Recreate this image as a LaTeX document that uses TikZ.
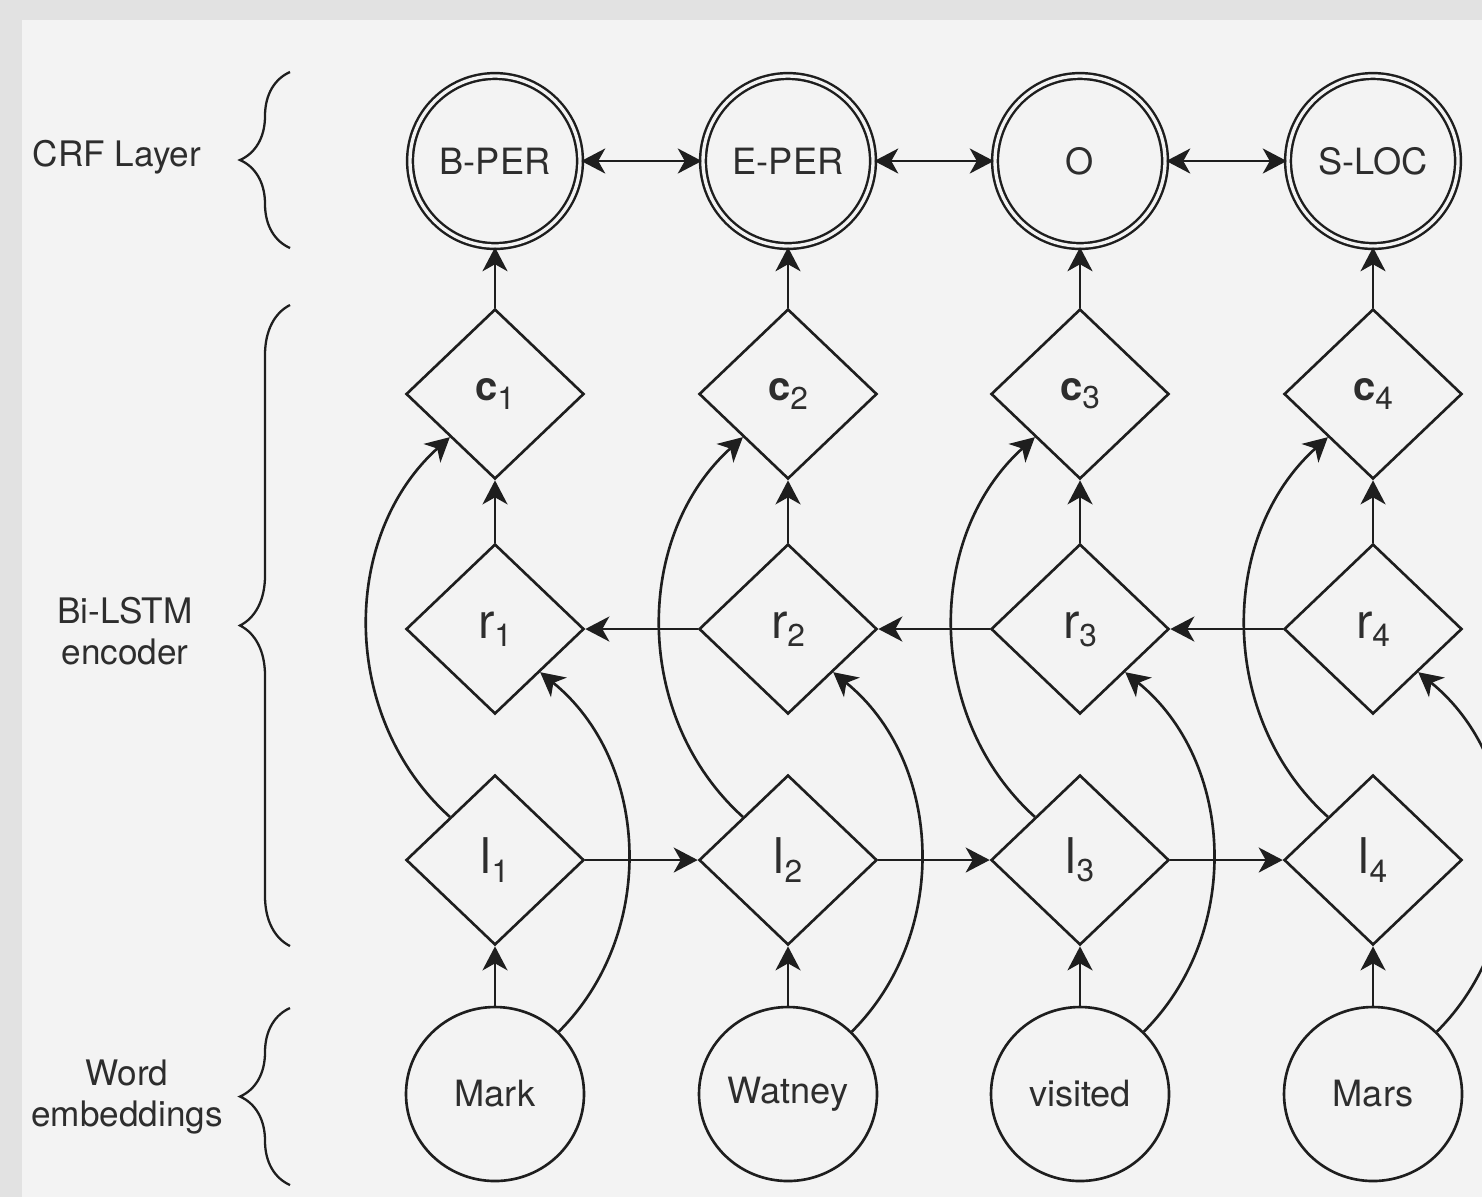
\documentclass[tikz,border=0pt]{standalone}
\usepackage{fontspec}
\setmainfont{TeX Gyre Heros}
\usetikzlibrary{positioning, arrows.meta, shapes.geometric, decorations.pathreplacing}
\definecolor{bgFrame}{RGB}{226,226,226}
\definecolor{bgInner}{RGB}{243,243,243}
\definecolor{edgeBase}{RGB}{ 30, 30, 30}
\definecolor{labelText}{RGB}{ 45, 45, 45}
\newcommand{\tsub}[1]{\raisebox{-2.3pt}{\fontsize{9}{9}\selectfont #1}}
\tikzset{
    crfnode/.style={
        circle, draw=edgeBase, double=bgInner, double distance=0.95pt,
        line width=0.7pt, minimum size=1.70cm, inner sep=0pt,
        font=\fontsize{10.3}{12}\selectfont, text=labelText
    },
    cellnode/.style={
        diamond, draw=edgeBase, line width=0.75pt, inner sep=0pt,
        minimum width=1.78cm, minimum height=1.70cm,
        font=\fontsize{14}{14}\selectfont, text=labelText
    },
    catnode/.style={cellnode, font=\fontsize{11.4}{12}\selectfont},
    wordnode/.style={
        ellipse, draw=edgeBase, line width=0.75pt, inner sep=0pt,
        minimum width=1.78cm, minimum height=1.74cm,
        font=\fontsize{10.3}{12}\selectfont, text=labelText
    },
    layer/.style={align=center, font=\fontsize{10}{11.8}\selectfont, text=labelText},
    lin/.style ={-{Stealth[length=2.4mm, width=2.5mm, inset=0.7mm]}, line width=0.75pt, draw=edgeBase},
    bi/.style  ={{Stealth[length=2.4mm, width=2.5mm, inset=0.7mm]}-{Stealth[length=2.4mm, width=2.5mm, inset=0.7mm]}, line width=0.75pt, draw=edgeBase},
    brc/.style ={decorate, decoration={brace, amplitude=0.5cm}, line width=0.65pt, draw=edgeBase}
}

\begin{document}
\begin{tikzpicture}
      \useasboundingbox (0,0) rectangle (14.82,-11.97);
      \fill[bgFrame] (0,0) rectangle (14.82,-11.97);
      \fill[bgInner] (0.22,-0.20) rectangle (14.82,-11.97);
      % layer labels and braces
      \node[layer] (Lcrf)  at (1.17,-1.57)  {CRF Layer};
      \node[layer] (Llstm) at (1.25,-6.31)  {Bi-LSTM\\encoder};
      \node[layer] (Lword) at (1.27,-10.97) {Word\\embeddings};
      \coordinate (crfB)  at (2.90,-2.48);  \coordinate (crfT)  at (2.90,-0.72);
      \coordinate (lstmB) at (2.90,-9.46);  \coordinate (lstmT) at (2.90,-3.05);
      \coordinate (wordB) at (2.90,-11.85); \coordinate (wordT) at (2.90,-10.08);
      \draw[brc] (crfB) -- (crfT);
      \draw[brc] (lstmB) -- (lstmT);
      \draw[brc] (wordB) -- (wordT);
      % CRF tags
      \node[crfnode] (T1) at (4.95,-1.61)  {B-PER};
      \node[crfnode] (T2) at (7.88,-1.61)  {E-PER};
      \node[crfnode] (T3) at (10.80,-1.61) {O};
      \node[crfnode] (T4) at (13.73,-1.61) {S-LOC};
      % concatenation cells
      \node[catnode] (C1) at (4.95,-3.94)  {\textbf{c}\tsub{1}};
      \node[catnode] (C2) at (7.88,-3.94)  {\textbf{c}\tsub{2}};
      \node[catnode] (C3) at (10.80,-3.94) {\textbf{c}\tsub{3}};
      \node[catnode] (C4) at (13.73,-3.94) {\textbf{c}\tsub{4}};
      % backward cells
      \node[cellnode] (R1) at (4.95,-6.29)  {r\tsub{1}};
      \node[cellnode] (R2) at (7.88,-6.29)  {r\tsub{2}};
      \node[cellnode] (R3) at (10.80,-6.29) {r\tsub{3}};
      \node[cellnode] (R4) at (13.73,-6.29) {r\tsub{4}};
      % forward cells
      \node[cellnode] (F1) at (4.95,-8.60)  {l\tsub{1}};
      \node[cellnode] (F2) at (7.88,-8.60)  {l\tsub{2}};
      \node[cellnode] (F3) at (10.80,-8.60) {l\tsub{3}};
      \node[cellnode] (F4) at (13.73,-8.60) {l\tsub{4}};
      % words
      \node[wordnode] (W1) at (4.95,-10.94)  {Mark};
      \node[wordnode] (W2) at (7.88,-10.94)  {Watney};
      \node[wordnode] (W3) at (10.80,-10.94) {visited};
      \node[wordnode] (W4) at (13.73,-10.94) {Mars};
      % vertical flow
      \draw[lin] (W1) -- (F1); \draw[lin] (W2) -- (F2);
      \draw[lin] (W3) -- (F3); \draw[lin] (W4) -- (F4);
      \draw[lin] (R1) -- (C1); \draw[lin] (R2) -- (C2);
      \draw[lin] (R3) -- (C3); \draw[lin] (R4) -- (C4);
      \draw[lin] (C1) -- (T1); \draw[lin] (C2) -- (T2);
      \draw[lin] (C3) -- (T3); \draw[lin] (C4) -- (T4);
      % recurrent links
      \draw[lin] (F1) -- (F2); \draw[lin] (F2) -- (F3); \draw[lin] (F3) -- (F4);
      \draw[lin] (R2) -- (R1); \draw[lin] (R3) -- (R2); \draw[lin] (R4) -- (R3);
      \draw[bi] (T1) -- (T2); \draw[bi] (T2) -- (T3); \draw[bi] (T3) -- (T4);
      % skip links
      \draw[lin] (F1.north west) to[bend left=48] (C1.south west);
      \draw[lin] (F2.north west) to[bend left=48] (C2.south west);
      \draw[lin] (F3.north west) to[bend left=48] (C3.south west);
      \draw[lin] (F4.north west) to[bend left=48] (C4.south west);
      \draw[lin] (W1.north east) to[bend right=48] (R1.south east);
      \draw[lin] (W2.north east) to[bend right=48] (R2.south east);
      \draw[lin] (W3.north east) to[bend right=48] (R3.south east);
      \draw[lin] (W4.north east) to[bend right=48] (R4.south east);
\end{tikzpicture}
\end{document}
